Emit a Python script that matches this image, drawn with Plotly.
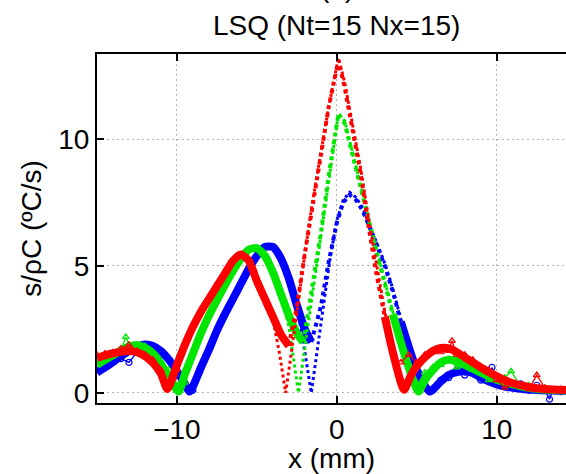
import plotly.graph_objects as go

# ---------------- data ----------------
x_red_est = [-15, -14.5, -14, -13.5, -13, -12.5, -12, -11.5, -11, -10.6, -10, -9.5, -9, -8.5, -8, -7.5, -7, -6.5, -6,
             -5.5, -5, -4.5, -4, -3.5, -3, -2.5, -2, -1.5, -1, -0.5, 0.1, 0.5, 1, 1.5, 2, 2.5, 3, 3.5, 4.2, 4.6, 5,
             5.5, 6, 6.5, 7, 7.5, 8, 8.5, 9, 9.5, 10, 10.5, 11, 11.5, 12, 12.5, 13, 13.5, 14, 14.5, 15]
y_red_est = [1.38, 1.48, 1.56, 1.62, 1.65, 1.6, 1.45, 1.18, 0.75, 0.15, 1.1, 1.9, 2.6, 3.2, 3.7, 4.2, 4.7, 5.2, 5.45,
             5.2, 4.4, 3.7, 3.0, 2.3, 1.85, 3.4, 5.5, 7.4, 9.3, 11.3, 13.1, 12.0, 10.3, 8.6, 6.5, 4.6, 3.0, 1.6, 0.12,
             0.65, 1.05, 1.4, 1.65, 1.77, 1.75, 1.6, 1.4, 1.2, 1.0, 0.82, 0.65, 0.5, 0.38, 0.3, 0.23, 0.18, 0.15, 0.13,
             0.12, 0.11, 0.1]

x_green_est = [-15, -14.5, -14, -13.5, -13, -12.5, -12, -11.5, -11, -10.5, -9.9, -9.5, -9, -8.5, -8, -7.5, -7, -6.5,
               -6, -5.5, -5, -4.5, -4, -3.5, -3, -2.5, -2.1, -1.5, -1, -0.5, 0.1, 0.5, 1, 1.5, 2, 2.5, 3, 3.5, 4, 4.5,
               5.1, 5.5, 6, 6.5, 7, 7.5, 8, 8.5, 9, 9.5, 10, 10.5, 11, 11.5, 12, 12.5, 13, 13.5, 14, 14.5, 15]
y_green_est = [1.1, 1.3, 1.48, 1.68, 1.82, 1.88, 1.78, 1.55, 1.15, 0.6, 0.05, 0.75, 1.55, 2.35, 3.05, 3.65, 4.25, 4.8,
               5.3, 5.65, 5.7, 5.4, 4.75, 3.9, 3.05, 2.35, 2.0, 4.3, 6.3, 8.6, 11.0, 10.6, 9.3, 8.0, 6.7, 5.5, 4.3,
               3.1, 2.0, 1.0, 0.05, 0.5, 0.9, 1.2, 1.3, 1.25, 1.1, 0.95, 0.8, 0.65, 0.52, 0.42, 0.33, 0.26, 0.2, 0.16,
               0.13, 0.11, 0.1, 0.09, 0.08]

x_blue_est = [-15, -14.5, -14, -13.5, -13, -12.5, -12, -11.5, -11, -10.5, -10, -9.5, -9.2, -8.5, -8, -7.5, -7, -6.5,
              -6, -5.5, -5, -4.5, -4, -3.5, -3, -2.5, -2, -1.6, -1, -0.5, 0, 0.4, 0.8, 1.2, 1.6, 2, 2.5, 3, 3.5, 4,
              4.5, 5, 5.8, 6.5, 7, 7.5, 8, 8.5, 9, 9.5, 10, 10.5, 11, 11.5, 12, 12.5, 13, 13.5, 14, 14.5, 15]
y_blue_est = [0.8, 1.0, 1.22, 1.45, 1.65, 1.82, 1.9, 1.85, 1.65, 1.3, 0.85, 0.35, 0.05, 1.0, 1.7, 2.45, 3.1, 3.7, 4.3,
              4.9, 5.4, 5.75, 5.75, 5.3, 4.5, 3.45, 2.5, 2.0, 3.4, 5.2, 6.7, 7.5, 7.8, 7.6, 7.2, 6.6, 5.8, 5.0, 4.0,
              2.8, 1.8, 0.9, 0.05, 0.45, 0.7, 0.82, 0.85, 0.78, 0.6, 0.45, 0.33, 0.25, 0.2, 0.16, 0.13, 0.11, 0.1,
              0.09, 0.08, 0.08, 0.07]

x_red_true = [-4.5, -4, -3.6, -3.2, -2.8, -2.4, -2, -1.5, -1, -0.5, 0.1, 0.5, 1, 1.5, 2, 2.5, 3, 3.5, 4.2]
y_red_true = [3.7, 2.9, 1.6, 0.0, 1.8, 3.7, 5.5, 7.6, 9.4, 11.3, 13.2, 12.2, 10.5, 8.8, 6.8, 5.0, 3.2, 1.7, 0.0]

x_green_true = [-3.5, -3, -2.7, -2.4, -2, -1.5, -1, -0.5, 0.1, 0.5, 1, 1.5, 2, 2.5, 3, 3.5, 4, 4.5, 5.1]
y_green_true = [3.9, 2.6, 1.3, 0.0, 1.8, 4.0, 6.2, 8.4, 11.0, 10.7, 9.4, 8.1, 6.8, 5.6, 4.4, 3.2, 2.0, 1.0, 0.0]

x_blue_true = [-2.8, -2.4, -2, -1.6, -1.2, -0.8, -0.4, 0, 0.4, 0.8, 1.2, 1.6, 2, 2.5, 3, 3.5, 4, 4.5, 5, 5.8]
y_blue_true = [3.9, 3.1, 1.6, 0.0, 1.8, 3.6, 5.4, 6.8, 7.6, 7.9, 7.7, 7.3, 6.7, 5.9, 5.1, 4.1, 2.9, 1.9, 1.0, 0.0]

x_red_meas = [-15, -14.5, -14, -13.5, -13, -12.5, -12, -11.5, -11, -10.5, -10, None,
              4, 4.5, 5, 5.5, 6, 6.5, 7, 7.2, 7.5, 8, 8.5, 9, 9.5, 10, 10.5, 11, 11.5, 12, 12.5, 13, 13.5, 14, 14.5, 15]
y_red_meas = [1.5, 1.55, 1.6, 1.75, 1.9, 1.65, 1.5, 1.3, 0.9, 0.3, 0.9, None,
              1.2, 1.5, 1.2, 1.5, 1.6, 1.6, 1.65, 2.05, 1.5, 1.5, 1.3, 1.0, 0.9, 0.5, 0.2, 0.35, 0.3, 0.15, 0.7, 0.2,
              0.1, 0.15, 0.1, 0.1]

x_green_meas = [-15, -14.5, -14, -13.5, -13.2, -13, -12.5, -12, -11.5, -11, -10.5, -10, -9.5, None,
                5, 5.5, 6, 6.5, 7, 7.5, 8, 8.5, 9, 9.5, 10, 10.5, 10.9, 11.5, 12, 12.5, 13, 13.5, 14, 14.5, 15]
y_green_meas = [1.2, 1.4, 1.5, 1.7, 2.2, 1.9, 1.9, 1.85, 1.6, 1.2, 0.9, 0.3, 0.4, None,
                0.3, 0.8, 1.0, 1.1, 1.3, 1.0, 1.2, 0.9, 0.8, 0.5, 0.55, 0.6, 0.85, 0.25, 0.3, 0.15, 0.2, 0.1, 0.12,
                0.08, 0.05]

x_blue_meas = [-15, -14.5, -14, -13.5, -13, -12.5, -12, -11.5, -11, -10.5, -10, -9.5, -9, None,
               6, 6.5, 7, 7.5, 8, 8.5, 9, 9.5, 9.7, 10, 10.5, 11, 11.5, 12, 12.5, 13, 13.3, 13.5, 14, 14.5, 15]
y_blue_meas = [0.9, 1.1, 1.3, 1.35, 1.2, 1.6, 1.9, 1.8, 1.5, 1.3, 0.7, 0.3, 0.1, None,
               0.1, 0.5, 0.6, 0.9, 0.7, 0.8, 0.5, 0.6, 1.0, 0.55, 0.5, 0.2, 0.35, 0.1, 0.3, 0.1, -0.25, 0.1, 0.05,
               0.05, 0.05]

x_ticks = [-10, 0, 10]
x_tick_text = ["\u221210", "0", "10"]
y_ticks = [0, 5, 10]

# ---------------- styles ----------------
series = [
    dict(color="#0000ff", est=(x_blue_est, y_blue_est), true=(x_blue_true, y_blue_true),
         meas=(x_blue_meas, y_blue_meas), cut=(-1.6, 4.0), sym="circle-open"),
    dict(color="#00e600", est=(x_green_est, y_green_est), true=(x_green_true, y_green_true),
         meas=(x_green_meas, y_green_meas), cut=(-2.1, 3.5), sym="triangle-up-open"),
    dict(color="#ff0000", est=(x_red_est, y_red_est), true=(x_red_true, y_red_true),
         meas=(x_red_meas, y_red_meas), cut=(-3.0, 3.0), sym="triangle-up-open"),
]

fig = go.Figure()
for s in series:
    c = s["color"]
    xm, ym = s["meas"]
    fig.add_trace(go.Scatter(x=xm, y=ym, mode="lines+markers", line=dict(color=c, width=1.3),
                             marker=dict(symbol=s["sym"], size=6, color=c, line=dict(width=1.2)),
                             connectgaps=False, hoverinfo="skip"))
    xe, ye = s["est"]
    lo, hi = s["cut"]
    y_thick = [y if (x <= lo or x >= hi) else None for x, y in zip(xe, ye)]
    fig.add_trace(go.Scatter(x=xe, y=y_thick, mode="lines", connectgaps=False,
                             line=dict(color=c, width=8, shape="spline", smoothing=0.6), hoverinfo="skip"))
    xc = [x for x in xe if lo <= x <= hi]
    yc = [y for x, y in zip(xe, ye) if lo <= x <= hi]
    fig.add_trace(go.Scatter(x=xc, y=yc, mode="lines", line=dict(color=c, width=4, dash="dot"),
                             hoverinfo="skip"))
    xt, yt = s["true"]
    fig.add_trace(go.Scatter(x=xt, y=yt, mode="lines", line=dict(color=c, width=3, dash="dot"),
                             hoverinfo="skip"))

axis_font = dict(family="Liberation Sans, Arial, Helvetica, sans-serif", size=28, color="black")

fig.update_layout(
    width=566, height=474,
    margin=dict(l=97, r=0, t=54, b=71),
    paper_bgcolor="white", plot_bgcolor="white",
    showlegend=False,
    font=axis_font,
    title=dict(text="LSQ (Nt=15 Nx=15)", font=axis_font,
               x=336.7 / 566, xref="container", xanchor="center",
               y=1 - 25 / 474, yref="container", yanchor="middle"),
)
fig.update_xaxes(
    range=[-15, 14.33], tickvals=x_ticks, ticktext=x_tick_text, automargin=False,
    ticks="inside", ticklen=7, tickwidth=1.5, tickcolor="black",
    showline=True, linecolor="black", linewidth=2, mirror="ticks",
    showgrid=True, gridcolor="#b4b4b4", gridwidth=1.2, griddash="2px,3px", zeroline=False,
    title=dict(text="x (mm)", font=axis_font, standoff=0),
)
fig.update_yaxes(
    range=[-0.4, 13.35], tickvals=y_ticks, automargin=False,
    ticks="inside", ticklen=7, tickwidth=1.5, tickcolor="black",
    showline=True, linecolor="black", linewidth=2, mirror=False,
    showgrid=True, gridcolor="#b4b4b4", gridwidth=1.2, griddash="2px,3px", zeroline=False,
    title=dict(text="s/\u03c1C (\u00baC/s)", font=axis_font, standoff=8),
)
fig.add_annotation(text="(b)", xref="paper", yref="paper", x=(336.7 - 97) / 469, y=1 + 66 / 349,
                   xanchor="center", yanchor="middle", showarrow=False, font=axis_font)

fig.write_html("out.html", config={"displayModeBar": False},
               post_script="document.body.style.margin='0px';document.body.style.overflow='hidden';")
